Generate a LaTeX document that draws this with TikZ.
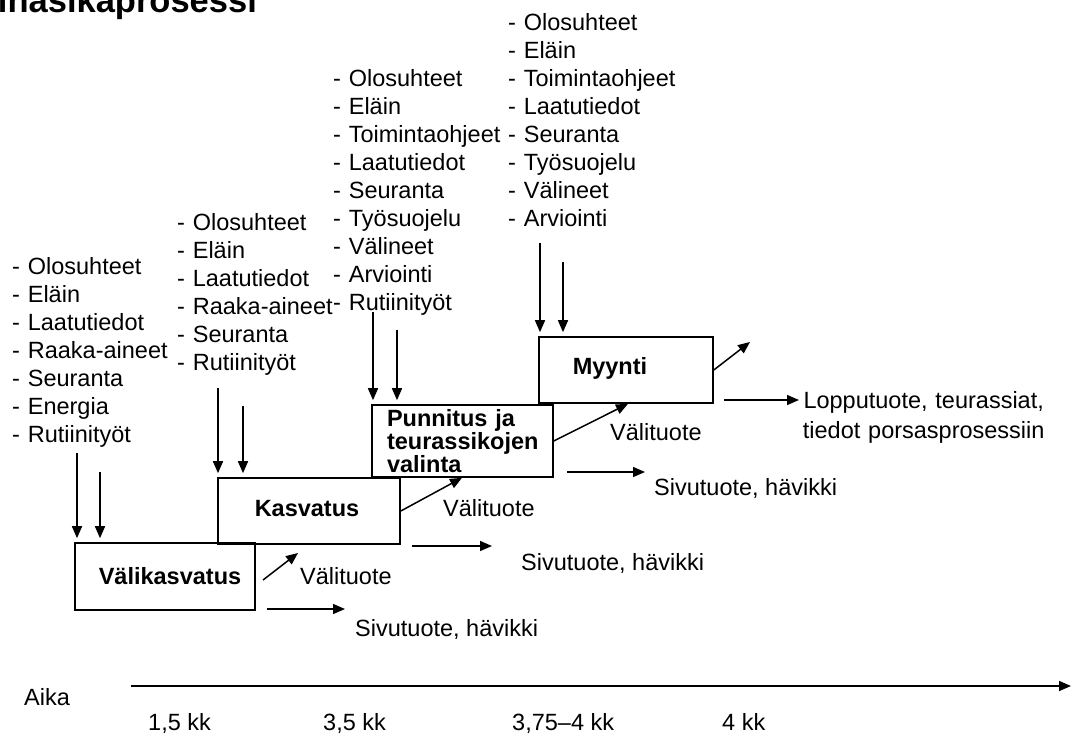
\documentclass[tikz,border=0pt]{standalone}
\usepackage{fontspec}
\setmainfont{Liberation Sans}
\usetikzlibrary{arrows.meta}
\begin{document}
\begin{tikzpicture}[x=1pt,y=-1pt,
  every node/.style={inner sep=0pt, font=\fontsize{23.5}{28}\selectfont},
  list/.style={anchor=base west, text width=190pt, align=left},
  box/.style={draw, line width=1.6pt},
  boxtext/.style={font=\fontsize{23.5}{18.5}\selectfont\bfseries},
  arr/.style={line width=1.5pt, -{Triangle[length=12pt,width=10pt]}},
  inarr/.style={arr, shorten >=4pt},
  lbl/.style={anchor=base west},
]
\useasboundingbox (0,0) rectangle (1072,734);

% heading (runs off the top edge)
\node[anchor=base west, font=\fontsize{34.5}{40}\selectfont\bfseries] (title) at (-23.3,12) {Lihasikaprosessi};

% process boxes
\node[box, minimum width=180pt, minimum height=67pt,
      label={[boxtext, xshift=5pt]center:Välikasvatus}] (vk) at (165,576.5) {};
\node[box, minimum width=182pt, minimum height=66pt,
      label={[boxtext, xshift=-2pt, yshift=2pt]center:Kasvatus}] (ka) at (309,511) {};
\node[box, boxtext, text width=151pt, inner xsep=15pt, align=left,
      minimum height=72pt] (pu) at (462.5,441) {Punnitus ja\\teurassikojen\\valinta};
\node[box, minimum width=174pt, minimum height=66pt,
      label={[boxtext, xshift=-16pt, yshift=2pt]center:Myynti}] (my) at (626,370) {};

% input lists
\node[list] (in1) at (12,274) {- Olosuhteet\\- Eläin\\- Laatutiedot\\- Raaka-aineet\\- Seuranta\\- Energia\\- Rutiinityöt};
\node[list] (in2) at (177,230) {- Olosuhteet\\- Eläin\\- Laatutiedot\\- Raaka-aineet\\- Seuranta\\- Rutiinityöt};
\node[list] (in3) at (333,86) {- Olosuhteet\\- Eläin\\- Toimintaohjeet\\- Laatutiedot\\- Seuranta\\- Työsuojelu\\- Välineet\\- Arviointi\\- Rutiinityöt};
\node[list] (in4) at (508,30) {- Olosuhteet\\- Eläin\\- Toimintaohjeet\\- Laatutiedot\\- Seuranta\\- Työsuojelu\\- Välineet\\- Arviointi};

% input arrows
\coordinate (a1) at (77,453);  \coordinate (b1) at (100,472);
\coordinate (a2) at (218,388); \coordinate (b2) at (243,406);
\coordinate (a3) at (373,312); \coordinate (b3) at (397,330);
\coordinate (a4) at (540,243); \coordinate (b4) at (563,262);
\draw[inarr] (a1) -- (a1 |- vk.north);
\draw[inarr] (b1) -- (b1 |- vk.north);
\draw[inarr] (a2) -- (a2 |- ka.north);
\draw[inarr] (b2) -- (b2 |- ka.north);
\draw[inarr] (a3) -- (a3 |- pu.north);
\draw[inarr] (b3) -- (b3 |- pu.north);
\draw[inarr] (a4) -- (a4 |- my.north);
\draw[inarr] (b4) -- (b4 |- my.north);

% intermediate products
\coordinate (v1s) at (263,580); \coordinate (v1e) at (298,553);
\draw[arr] (v1s) -- (v1e);
\draw[arr] (ka.east) -- (462,0 |- pu.south);
\draw[arr] (pu.east) -- (628,0 |- my.south);
\coordinate (v4e) at (750,342);
\draw[arr] (my.east) -- (v4e);
\node[lbl] (vt1) at (300,584.5) {Välituote};
\node[lbl] (vt2) at (443,516.5) {Välituote};
\node[lbl] (vt3) at (610,440.5) {Välituote};

% by-products
\coordinate (s1s) at (267,609); \coordinate (s1e) at (345,609);
\coordinate (s2s) at (412,546); \coordinate (s2e) at (492,546);
\coordinate (s3s) at (567,472); \coordinate (s3e) at (645,472);
\draw[arr] (s1s) -- (s1e);
\draw[arr] (s2s) -- (s2e);
\draw[arr] (s3s) -- (s3e);
\node[lbl] (sv1) at (355,636) {Sivutuote, hävikki};
\node[lbl] (sv2) at (521,570) {Sivutuote, hävikki};
\node[lbl] (sv3) at (654,495) {Sivutuote, hävikki};

% final product
\coordinate (ls) at (724,400); \coordinate (le) at (799,400);
\draw[arr] (ls) -- (le);
\node[anchor=base west, text width=245pt, align=center,
      font=\fontsize{23.5}{30}\selectfont] (lp) at (801,408)
  {Lopputuote, teurassiat,\\tiedot porsasprosessiin};

% time axis
\coordinate (t0) at (131,686); \coordinate (t1) at (1071,686);
\draw[arr] (t0) -- (t1);
\node[lbl] (aika) at (24,705) {Aika};
\node[lbl] (k1) at (148,730) {1,5 kk};
\node[lbl] (k2) at (323,730) {3,5 kk};
\node[lbl] (k3) at (512,730) {3,75–4 kk};
\node[lbl] (k4) at (722,730) {4 kk};
\end{tikzpicture}
\end{document}
